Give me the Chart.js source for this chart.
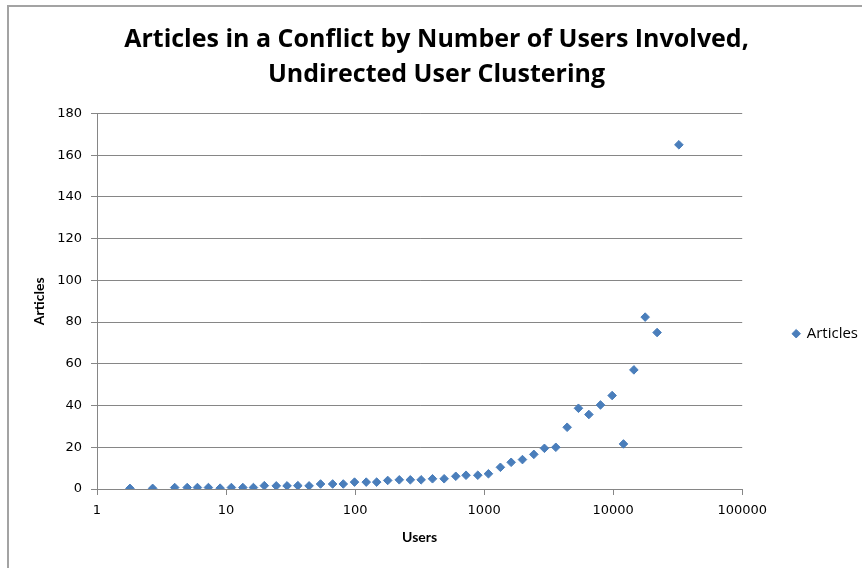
<!DOCTYPE html>
<html>
<head>
<meta charset="utf-8">
<title>Articles in a Conflict by Number of Users Involved</title>
<script src="https://cdn.jsdelivr.net/npm/chart.js@4/dist/chart.umd.min.js"></script>
<style>
  body { margin: 0; background: #fff; }
  #wrap { position: relative; width: 862px; height: 568px; }
  #frame {
    position: absolute; left: 7px; top: 5px; right: 0; bottom: 0;
    border-left: 2px solid #a3a3a3; border-top: 2px solid #a3a3a3;
    pointer-events: none;
  }
</style>
</head>
<body>
<div id="wrap">
  <canvas id="myChart" width="862" height="568"></canvas>
  <div id="frame"></div>
</div>
<script>
// number of users in the cluster (x) and articles in conflict (y)
const users = [
  1.8, 2.7, 4, 5, 6, 7.3, 9, 11, 13.5, 16.3,
  19.8, 24.5, 29.7, 36, 44, 54, 67, 81, 99, 122,
  147, 179, 220, 268, 325, 398, 490, 603, 724, 893,
  1080, 1337, 1620, 1982, 2428, 2933, 3594, 4399, 5383, 6483,
  7975, 9820, 12020, 14470, 17700, 21900, 32300
];
const articles = [
  0.3, 0.3, 0.7, 0.7, 0.7, 0.7, 0.4, 0.7, 0.7, 0.7,
  1.6, 1.5, 1.5, 1.6, 1.5, 2.4, 2.4, 2.4, 3.3, 3.3,
  3.3, 4.1, 4.4, 4.4, 4.4, 4.9, 4.9, 6.1, 6.6, 6.6,
  7.3, 10.4, 12.8, 14.1, 16.6, 19.5, 20, 29.6, 38.7, 35.7,
  40.3, 44.8, 21.6, 57.1, 82.4, 75, 165
];
const xTicks = [1, 10, 100, 1000, 10000, 100000];
const yMax = 180;
const yStep = 20;

const axisColor = "#868686";
const blue = "#4a7ebb";

document.addEventListener("DOMContentLoaded", () => {
  var ctx = document.getElementById("myChart").getContext("2d");
  var myChart = new Chart(ctx, {
    type: "scatter",
    data: {
      datasets: [
        {
          label: "Articles",
          data: users.map((u, i) => ({ x: u, y: articles[i] })),
          pointStyle: "rectRot",
          pointRadius: 4.3,
          backgroundColor: blue,
          borderColor: blue,
          borderWidth: 1
        }
      ]
    },
    options: {
      responsive: false,
      animation: false,
      // negative right padding lets the legend text reach the canvas edge like Excel's
      layout: { padding: { left: 5, right: -6, top: 0, bottom: 10 } },
      plugins: {
        title: {
          display: true,
          text: ["Articles in a Conflict by Number of Users Involved,", "Undirected User Clustering"],
          color: "#000",
          font: { family: "Open Sans", size: 25, weight: "bold", lineHeight: 1.41 },
          padding: { top: 22, bottom: 21 }
        },
        legend: {
          position: "right",
          // empty title only pushes the single entry down to where Excel puts it
          title: { display: true, text: "", padding: { top: 0, bottom: 95 } },
          labels: {
            usePointStyle: true,
            pointStyle: "rectRot",
            boxWidth: 6,
            boxHeight: 6,
            padding: 51,
            color: "#000",
            font: { family: "Open Sans", size: 15 }
          }
        },
        tooltip: { enabled: false }
      },
      scales: {
        x: {
          type: "logarithmic",
          min: xTicks[0],
          max: xTicks[xTicks.length - 1],
          afterBuildTicks: scale => {
            scale.ticks = xTicks.map(v => ({ value: v }));
          },
          afterFit: scale => {
            scale.height = 69;
          },
          grid: { drawOnChartArea: false, tickLength: 6, color: axisColor },
          border: { color: axisColor },
          ticks: {
            callback: v => String(v),
            color: "#000",
            padding: 8,
            maxRotation: 0,
            font: { family: "DejaVu Sans", size: 13 }
          },
          title: {
            display: true,
            text: "Users",
            color: "#000",
            font: { family: "Lato", size: 14, weight: "bold" },
            padding: { top: 0, bottom: 12 }
          }
        },
        y: {
          min: 0,
          max: yMax,
          afterFit: scale => {
            scale.width = 92;
          },
          grid: { color: axisColor, tickLength: 6 },
          border: { color: axisColor },
          ticks: {
            stepSize: yStep,
            color: "#000",
            padding: 9,
            font: { family: "DejaVu Sans", size: 13 }
          },
          title: {
            display: true,
            text: "Articles",
            color: "#000",
            font: { family: "Lato", size: 14, weight: "bold" },
            padding: { top: 26, bottom: 0 }
          }
        }
      }
    }
  });
});
</script>
</body>
</html>
